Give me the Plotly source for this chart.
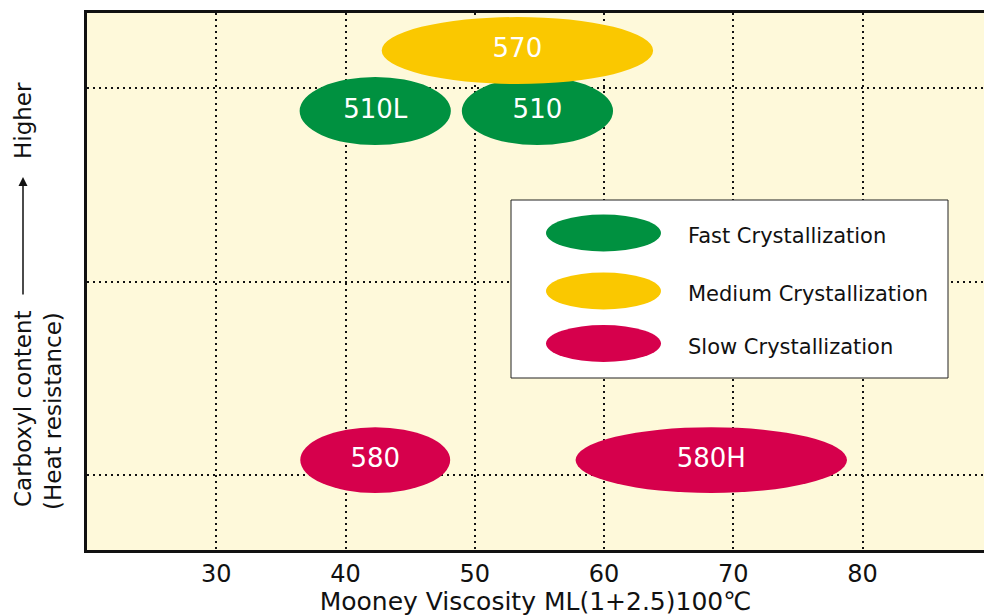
import plotly.graph_objects as go

# ---- data ----
grades = ["510L", "510", "570", "580", "580H"]
viscosity_center = [42.3, 54.85, 53.3, 42.3, 68.3]      # Mooney viscosity (x centre)
viscosity_span = [11.7, 11.7, 21.0, 11.6, 21.0]         # ellipse width in x units
carboxyl_level = [2.881, 2.881, 3.194, 1.077, 1.077]     # relative carboxyl content (y centre)
carboxyl_span = [0.352, 0.352, 0.346, 0.34, 0.34]        # ellipse height in y units
speed = ["Fast", "Fast", "Medium", "Slow", "Slow"]

x_ticks = [30, 40, 50, 60, 70, 80]
y_grid = [1, 2, 3]
legend_labels = ["Fast Crystallization", "Medium Crystallization", "Slow Crystallization"]
legend_keys = ["Fast", "Medium", "Slow"]

colors = {"Fast": "#009140", "Medium": "#FAC800", "Slow": "#D6004C"}
FONT = "DejaVu Sans"
W, H = 984, 616
L, R, T, B = 87, 0, 13, 66
PW, PH = W - L - R, H - T - B


def px(xp):
    return (xp - L) / PW


def py(yp):
    return (H - B - yp) / PH


fig = go.Figure()

shapes = []
order = sorted(range(len(grades)), key=lambda i: 1 if speed[i] == "Medium" else 0)
for i in order:
    shapes.append(dict(
        type="circle", xref="x", yref="y", layer="between",
        x0=viscosity_center[i] - viscosity_span[i] / 2,
        x1=viscosity_center[i] + viscosity_span[i] / 2,
        y0=carboxyl_level[i] - carboxyl_span[i] / 2,
        y1=carboxyl_level[i] + carboxyl_span[i] / 2,
        fillcolor=colors[speed[i]], line=dict(width=0),
    ))

fig.add_trace(go.Scatter(
    x=viscosity_center, y=carboxyl_level, mode="text", text=grades,
    textfont=dict(family=FONT, size=26, color="white"),
    textposition="middle center", hoverinfo="skip", showlegend=False,
))

# legend box
shapes.append(dict(type="rect", xref="paper", yref="paper",
                   x0=px(511), x1=px(948), y0=py(378), y1=py(200),
                   fillcolor="white", line=dict(color="#222", width=1), layer="above"))
legend_rows = [233, 291, 343.5]
annotations = []
for key, lab, yc in zip(legend_keys, legend_labels, legend_rows):
    shapes.append(dict(type="circle", xref="paper", yref="paper",
                       x0=px(546), x1=px(661), y0=py(yc + 18.5), y1=py(yc - 18.5),
                       fillcolor=colors[key], line=dict(width=0), layer="above"))
    annotations.append(dict(xref="paper", yref="paper", x=px(686), y=py(yc + 3),
                            text=lab, showarrow=False, xanchor="left", yanchor="middle",
                            font=dict(family=FONT, size=21, color="#111")))

# y-axis title pieces
ytitle_font = dict(family=FONT, size=23, color="#111")
annotations += [
    dict(xref="paper", yref="paper", x=px(23), y=py(409), text="Carboxyl content",
         textangle=-90, showarrow=False, xanchor="center", yanchor="middle", font=ytitle_font),
    dict(xref="paper", yref="paper", x=px(53), y=py(411), text="(Heat resistance)",
         textangle=-90, showarrow=False, xanchor="center", yanchor="middle", font=ytitle_font),
    dict(xref="paper", yref="paper", x=px(23), y=py(121), text="Higher",
         textangle=-90, showarrow=False, xanchor="center", yanchor="middle", font=ytitle_font),
    dict(xref="paper", yref="paper", x=px(23), y=py(177), ax=0, ay=119,
         axref="pixel", ayref="pixel", text="", showarrow=True, arrowhead=2,
         arrowsize=1.2, arrowwidth=1.5, arrowcolor="#111", standoff=0, startstandoff=0),
]

fig.update_layout(
    width=W, height=H,
    margin=dict(l=L, r=R, t=T, b=B),
    paper_bgcolor="white", plot_bgcolor="#FEF9DA",
    shapes=shapes, annotations=annotations,
    showlegend=False,
    xaxis=dict(
        range=[20.0, 89.4], tickvals=x_ticks, ticktext=[str(v) for v in x_ticks],
        showgrid=True, gridcolor="#111", griddash="2px,4px", gridwidth=1.5,
        showline=True, linecolor="#111", linewidth=3, mirror=True,
        ticks="", tickfont=dict(family=FONT, size=24, color="#111"),
        zeroline=False,
        title=dict(text="Mooney Viscosity ML(1+2.5)100℃",
                   font=dict(family=FONT, size=25, color="#111"), standoff=8),
    ),
    yaxis=dict(
        range=[0.612, 3.388], tickvals=y_grid, showticklabels=False,
        showgrid=True, gridcolor="#111", griddash="2px,4px", gridwidth=1.5,
        showline=True, linecolor="#111", linewidth=3,
        ticks="", zeroline=False,
    ),
)

fig.write_html("out.html", config={"displayModeBar": False},
               post_script="document.body.style.margin='0';document.body.style.overflow='hidden';")
